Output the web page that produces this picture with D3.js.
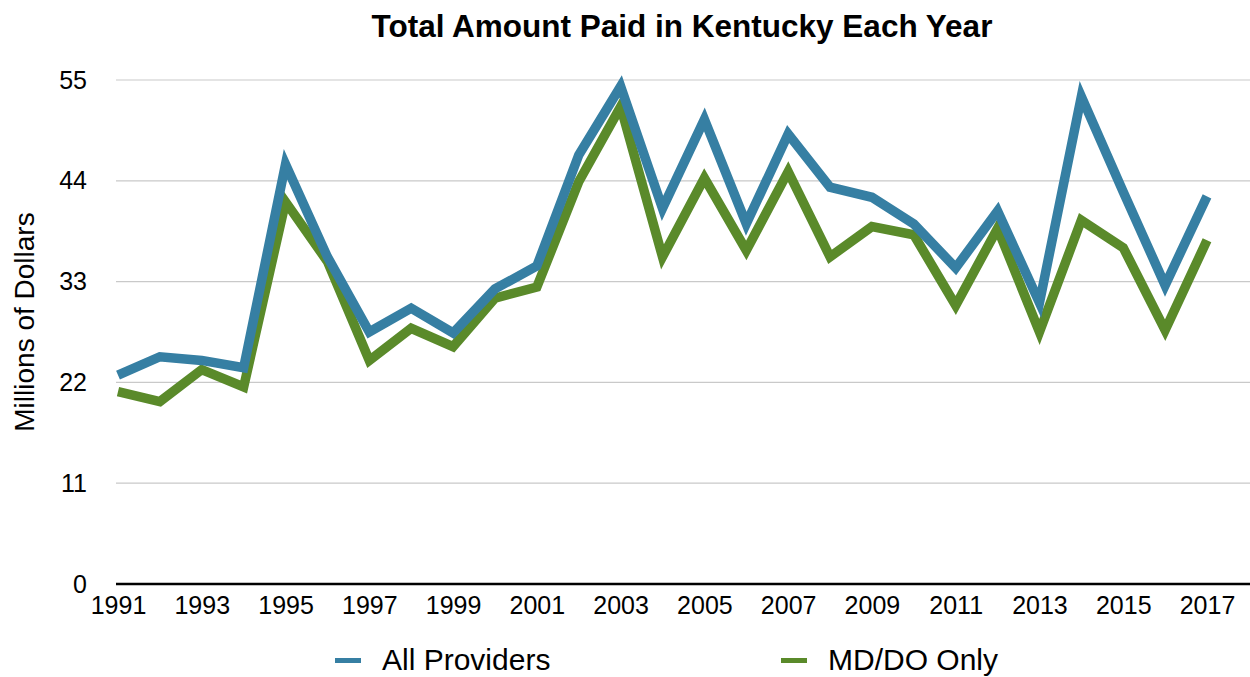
<!DOCTYPE html>
<html>
<head>
<meta charset="utf-8">
<script src="https://cdn.jsdelivr.net/npm/d3@7"></script>
<style>
  body { margin: 0; background: #fff; }
  svg { display: block; font-family: "Liberation Sans", Arial, Helvetica, sans-serif; }
</style>
</head>
<body>
<div id="viz"></div>
<script>
const years = d3.range(1991, 2018);
const allProviders = [22.8, 24.8, 24.4, 23.6, 45.8, 35.7, 27.5, 30.1, 27.4, 32.2,
  34.7, 46.8, 54.3, 41.0, 50.7, 39.3, 49.1, 43.3, 42.2, 39.3,
  34.5, 40.7, 30.7, 53.2, 42.8, 32.6, 42.3];
const mdDoOnly = [21.0, 19.9, 23.4, 21.5, 41.7, 35.2, 24.4, 27.9, 25.9, 31.2,
  32.4, 43.9, 52.1, 35.7, 44.3, 36.4, 45.0, 35.7, 39.0, 38.1,
  30.4, 38.8, 27.5, 39.7, 36.7, 27.7, 37.5];
const yTicks = [0, 11, 22, 33, 44, 55];
const xTicks = d3.range(1991, 2018, 2);
const seriesNames = ["All Providers", "MD/DO Only"];

const width = 1250, height = 677;
const margin = { top: 80, right: 0, bottom: 93, left: 116 };

const color = d3.scaleOrdinal()
  .domain(seriesNames)
  .range(["#367fa3", "#5a8a2a"]);

const svg = d3.select("#viz")
  .append("svg")
  .attr("width", width)
  .attr("height", height);

const x = d3.scaleLinear()
  .domain([1991, 2017])
  .range([118, 1207]);

const y = d3.scaleLinear()
  .domain([0, 55])
  .range([height - margin.bottom, margin.top]);

// gridlines
svg.append("g")
  .selectAll("line")
  .data(yTicks.filter(d => d > 0))
  .join("line")
  .attr("x1", margin.left)
  .attr("x2", width - margin.right)
  .attr("y1", d => y(d))
  .attr("y2", d => y(d))
  .attr("stroke", "#c9c9c9")
  .attr("stroke-width", 1.2);

// y axis labels
const yAxis = svg.append("g")
  .attr("transform", `translate(${margin.left},0)`)
  .call(d3.axisLeft(y).tickValues(yTicks).tickSize(0).tickPadding(29));
yAxis.select(".domain").remove();
yAxis.selectAll("text")
  .style("font-size", "25px")
  .style("font-family", "'Liberation Sans', Arial, sans-serif")
  .attr("fill", "#000");

// x axis
const xAxis = svg.append("g")
  .attr("transform", `translate(0,${y(0)})`)
  .call(d3.axisBottom(x).tickValues(xTicks).tickFormat(d3.format("d")).tickSize(0).tickPadding(12));
xAxis.select(".domain").remove();
xAxis.selectAll("text")
  .style("font-size", "25px")
  .style("font-family", "'Liberation Sans', Arial, sans-serif")
  .attr("fill", "#000");
xAxis.append("line")
  .attr("x1", margin.left)
  .attr("x2", width - margin.right)
  .attr("stroke", "#000")
  .attr("stroke-width", 2.5);

// lines, blue drawn last so it sits on top
const line = d3.line()
  .x((d, i) => x(years[i]))
  .y(d => y(d));

[mdDoOnly, allProviders].forEach((values, i) => {
  svg.append("path")
    .datum(values)
    .attr("fill", "none")
    .attr("stroke", color(seriesNames[1 - i]))
    .attr("stroke-width", 9.5)
    .attr("stroke-linejoin", "miter")
    .attr("d", line);
});

// title
svg.append("text")
  .attr("x", 682)
  .attr("y", 37)
  .attr("text-anchor", "middle")
  .style("font-size", "31.5px")
  .style("font-weight", "bold")
  .text("Total Amount Paid in Kentucky Each Year");

// y axis title
svg.append("text")
  .attr("transform", "translate(34,322) rotate(-90)")
  .attr("text-anchor", "middle")
  .style("font-size", "28px")
  .text("Millions of Dollars");

// legend
const legendPos = [335, 781];
const legend = svg.append("g");
seriesNames.forEach((name, i) => {
  legend.append("rect")
    .attr("x", legendPos[i])
    .attr("y", 658)
    .attr("width", 26)
    .attr("height", 5)
    .attr("fill", color(name));
  legend.append("text")
    .attr("x", legendPos[i] + 47)
    .attr("y", 670)
    .style("font-size", "30px")
    .text(name);
});
</script>
</body>
</html>
